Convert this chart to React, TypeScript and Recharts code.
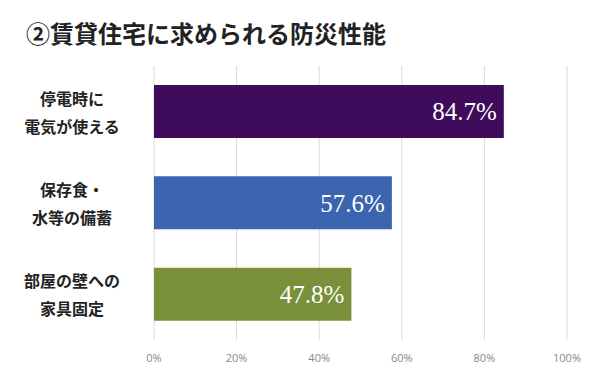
import { BarChart, Bar, XAxis, YAxis, CartesianGrid, LabelList, Cell } from 'recharts'

const CATEGORIES = [
  ['停電時に', '電気が使える'],
  ['保存食・', '水等の備蓄'],
  ['部屋の壁への', '家具固定'],
]
const VALUES = [0.847, 0.576, 0.478]
const COLORS = ['#3f0b5b', '#3b66af', '#7a8f3a']
const TICKS = [0, 0.2, 0.4, 0.6, 0.8, 1]

const data = CATEGORIES.map((c, i) => ({ name: c.join('\n'), value: VALUES[i] }))

const CategoryTick = ({ y, payload }: any) => {
  const lines = String(payload.value).split('\n')
  return (
    <text x={72} y={y} textAnchor="middle" fontSize={16} fontWeight={700} fill="#222"
      fontFamily="'Noto Sans CJK JP', sans-serif">
      {lines.map((l, i) => (
        <tspan key={i} x={72} dy={i === 0 ? -7 : 28}>{l}</tspan>
      ))}
    </text>
  )
}

export default function App() {
  return (
    <div style={{ position: 'absolute', left: 0, top: 0, width: 590, height: 391, background: '#fff' }}>
      <div style={{
        position: 'absolute', left: 26, top: 15, fontSize: 24, fontWeight: 700, color: '#222',
        fontFamily: "'Noto Sans CJK JP', sans-serif", whiteSpace: 'nowrap',
      }}>
        ②賃貸住宅に求められる防災性能
      </div>
      <BarChart width={590} height={391} data={data} layout="vertical"
        margin={{ top: 66, right: 23, left: 0, bottom: 21 }} barCategoryGap={19}>
        <CartesianGrid horizontal={false} stroke="#dadada" />
        <XAxis type="number" domain={[0, 1]} ticks={TICKS} axisLine={false} tickLine={false}
          tickMargin={8} interval={0}
          tickFormatter={(v) => `${Math.round(v * 100)}%`}
          tick={{ fontSize: 11, fill: '#888', fontFamily: "'Open Sans', sans-serif" }} />
        <YAxis type="category" dataKey="name" width={154} axisLine={false} tickLine={false}
          tick={<CategoryTick />} />
        <Bar dataKey="value" isAnimationActive={false}>
          {data.map((_, i) => <Cell key={i} fill={COLORS[i]} />)}
          <LabelList dataKey="value" position="insideRight" offset={7}
            formatter={(v: any) => `${(v * 100).toFixed(1)}%`}
            style={{ fill: '#fff', fontSize: 25, fontFamily: "'Liberation Serif', serif" }} />
        </Bar>
      </BarChart>
    </div>
  )
}
